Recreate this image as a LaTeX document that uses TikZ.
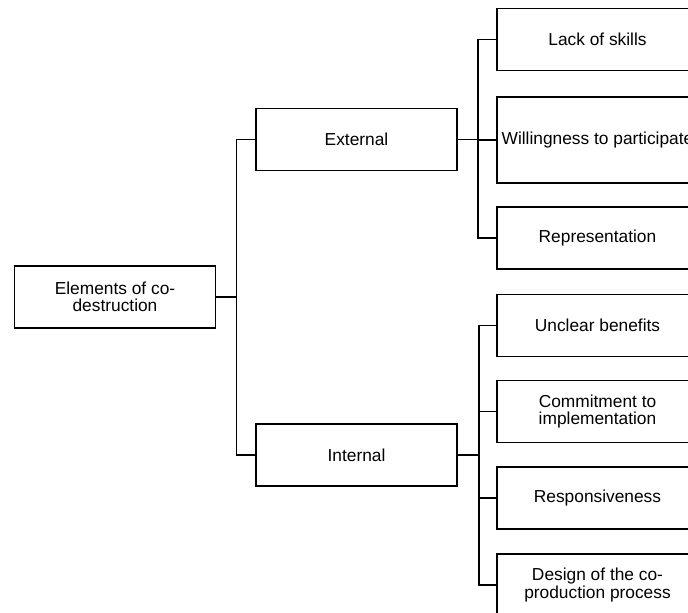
\documentclass[tikz,border=0pt]{standalone}
\usepackage{fontspec}
\setmainfont{Liberation Sans}
\tikzset{
  box/.style={draw,line width=1.4pt,minimum width=150.75pt,minimum height=46.5pt,
    align=center,inner sep=1pt,font=\fontsize{13}{12.9}\selectfont},
  tall/.style={box,minimum height=64.5pt},
  link/.style={line width=1.4pt}
}
\begin{document}
\begin{tikzpicture}[x=0.75pt,y=-0.75pt]
  \fill[white] (0,0) rectangle (688,613);
  \clip (0,0) rectangle (688,613);
  % first level
  \node[box] (root) at (115,297) {Elements of co-\\destruction};
  \node[box] (ext) at (356.5,139.5) {External};
  \node[box] (int) at (356.5,455) {Internal};
  % external leaves
  \node[box] (skills) at (597.5,39.5) {Lack of skills};
  \node[tall] (willing) at (597.5,140) {Willingness to participate};
  \node[box] (repr) at (597.5,238) {Representation};
  % internal leaves
  \node[box] (benefits) at (597.5,325.5) {Unclear benefits};
  \node[box] (commit) at (597.5,411.5) {Commitment to\\implementation};
  \node[box] (respons) at (597.5,498) {Responsiveness};
  \node[box] (design) at (597.5,585) {Design of the co-\\production process};
  % connectors
  \draw[link] (root.east) -- ++(20,0) |- (ext.west);
  \draw[link] (root.east) -- ++(20,0) |- (int.west);
  \draw[link] (ext.east) -- ++(20,0) |- (skills.west);
  \draw[link] (ext.east) -- ++(20,0) |- (willing.west);
  \draw[link] (ext.east) -- ++(20,0) |- (repr.west);
  \draw[link] (int.east) -- ++(21,0) |- (benefits.west);
  \draw[link] (int.east) -- ++(21,0) |- (commit.west);
  \draw[link] (int.east) -- ++(21,0) |- (respons.west);
  \draw[link] (int.east) -- ++(21,0) |- (design.west);
\end{tikzpicture}
\end{document}
